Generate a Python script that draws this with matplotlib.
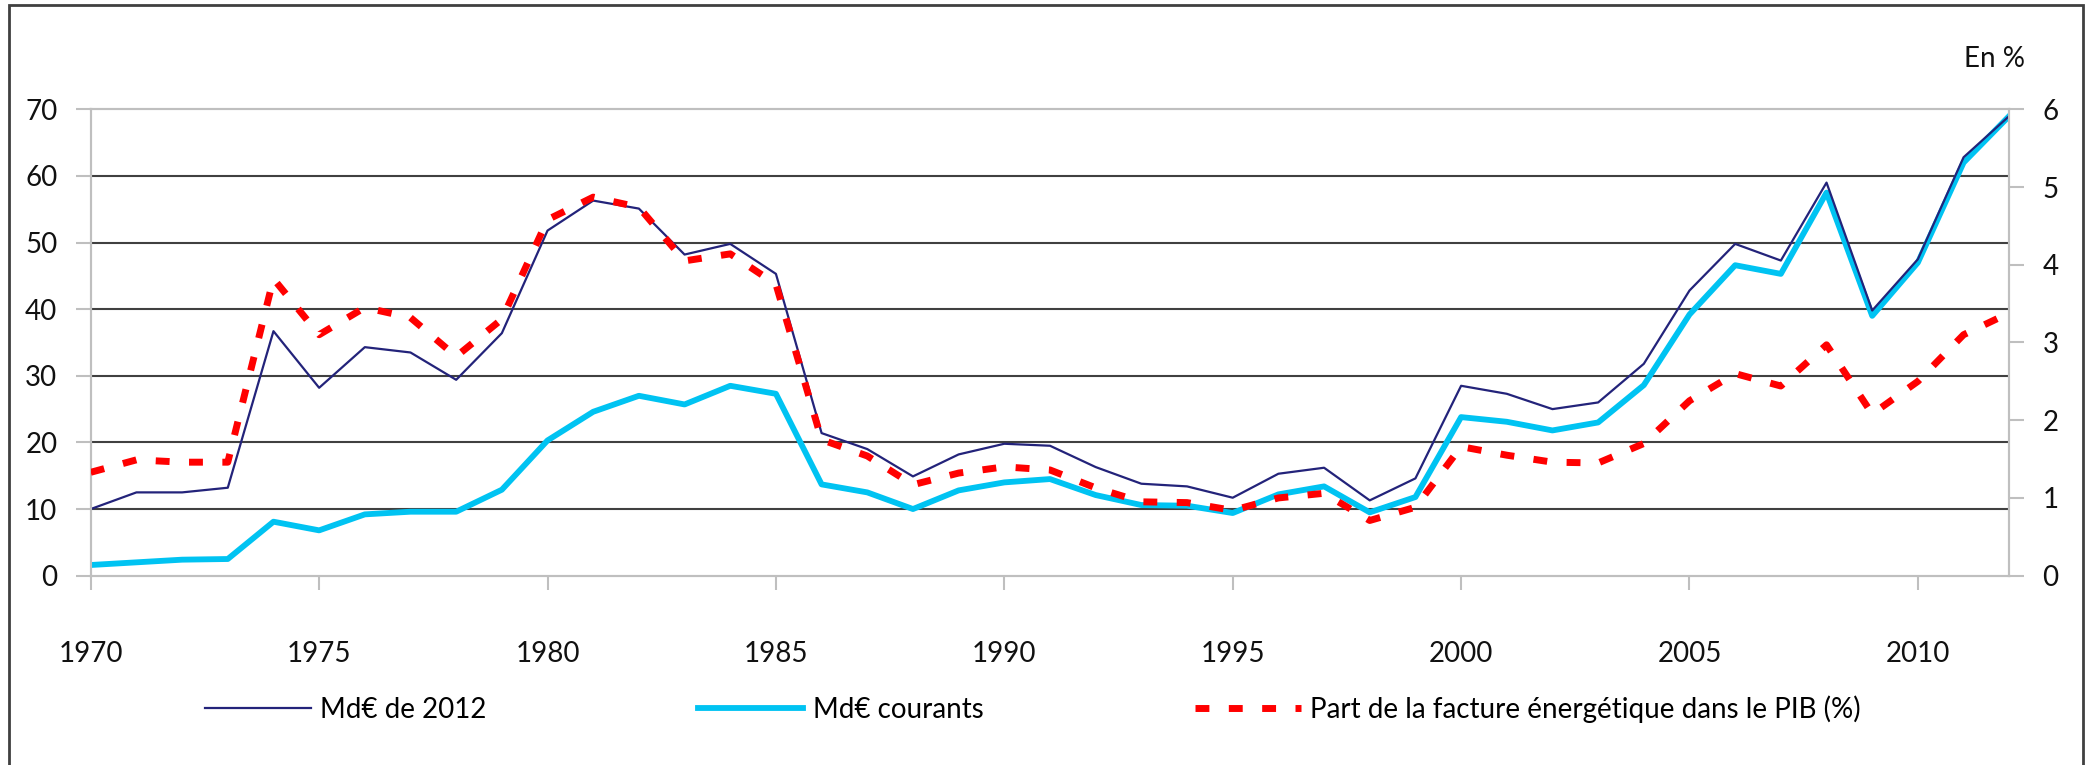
import matplotlib
matplotlib.use("Agg")
import matplotlib.pyplot as plt
from matplotlib.patches import Rectangle
import numpy as np

plt.rcParams['font.family'] = ['Lato', 'DejaVu Sans']

years = np.arange(1970, 2013)

md_2012 = [10.0, 12.5, 12.5, 13.2, 36.7, 28.2, 34.3, 33.5, 29.4, 36.4,
           51.8, 56.3, 55.1, 48.2, 49.8, 45.3, 21.4, 19.0, 14.9, 18.2,
           19.8, 19.5, 16.3, 13.8, 13.4, 11.7, 15.3, 16.2, 11.3, 14.6,
           28.5, 27.3, 25.0, 26.0, 31.8, 42.8, 49.8, 47.3, 59.0, 39.8,
           47.5, 62.8, 69.0]

md_courants = [1.6, 2.0, 2.4, 2.5, 8.1, 6.8, 9.2, 9.6, 9.6, 12.9,
               20.3, 24.6, 27.0, 25.7, 28.5, 27.3, 13.7, 12.5, 10.0, 12.8,
               14.0, 14.5, 12.1, 10.6, 10.5, 9.4, 12.2, 13.4, 9.5, 11.8,
               23.8, 23.1, 21.8, 23.0, 28.6, 39.2, 46.6, 45.3, 57.5, 39.0,
               47.0, 62.0, 69.0]

part_pib = [1.33, 1.49, 1.46, 1.46, 3.82, 3.10, 3.45, 3.32, 2.82, 3.30,
            4.58, 4.87, 4.74, 4.05, 4.14, 3.75, 1.75, 1.54, 1.17, 1.32,
            1.40, 1.36, 1.13, 0.95, 0.94, 0.84, 1.00, 1.06, 0.71, 0.88,
            1.66, 1.55, 1.46, 1.45, 1.70, 2.25, 2.60, 2.44, 2.97, 2.08,
            2.50, 3.10, 3.38]

labels = ['Md€ de 2012', 'Md€ courants', 'Part de la facture énergétique dans le PIB (%)']
xticks = [1970, 1975, 1980, 1985, 1990, 1995, 2000, 2005, 2010]

fs = 20
light = '#bfbfbf'
dark = '#404040'
txt = '#111111'

fig = plt.figure(figsize=(20.91, 7.65), dpi=100)
ax = fig.add_axes([0.0434, 0.2475, 0.9175, 0.6096])
ax2 = ax.twinx()

for v in range(10, 70, 10):
    ax.axhline(v, color=dark, lw=1.5, zorder=1)

l1, = ax.plot(years, md_2012, color='#23237a', lw=1.6, zorder=4)
l2, = ax.plot(years, md_courants, color='#00c3f2', lw=4.2, zorder=3)
l3, = ax2.plot(years, part_pib, color='#ff0000', lw=5, dashes=(2, 2.8),
               dash_capstyle='butt', zorder=5)

ax.set_xlim(1970, 2012)
ax.set_ylim(0, 70)
ax2.set_ylim(0, 6)
ax.set_xticks(xticks)
ax.set_yticks(range(0, 80, 10))
ax2.set_yticks(range(0, 7))

for a in (ax, ax2):
    for s in a.spines.values():
        s.set_color(light)
        s.set_linewidth(1.5)

ax.tick_params(axis='y', length=11, width=1.5, color=light, labelsize=fs, pad=13, labelcolor=txt)
ax.tick_params(axis='x', length=10, width=1.5, color=light, labelsize=fs, pad=37, labelcolor=txt)
ax2.tick_params(axis='y', length=11, width=1.5, color=light, labelsize=fs, pad=13, labelcolor=txt)

ax2.set_zorder(ax.get_zorder() + 1)
ax2.patch.set_visible(False)

fig.text(0.954, 0.923, 'En %', fontsize=fs, ha='center', va='center', color=txt)

fig.legend([l1, l2, l3], labels, loc='center', bbox_to_anchor=(0.494, 0.073),
           ncol=3, frameon=False, fontsize=fs, handlelength=3.8,
           handletextpad=0.35, columnspacing=7.6)

fig.patches.append(Rectangle((9 / 2091, -0.1), 2074 / 2091, 1.1 - 5 / 765,
                             transform=fig.transFigure, fill=False,
                             edgecolor=dark, lw=2))

fig.savefig('out.png', dpi=100)
